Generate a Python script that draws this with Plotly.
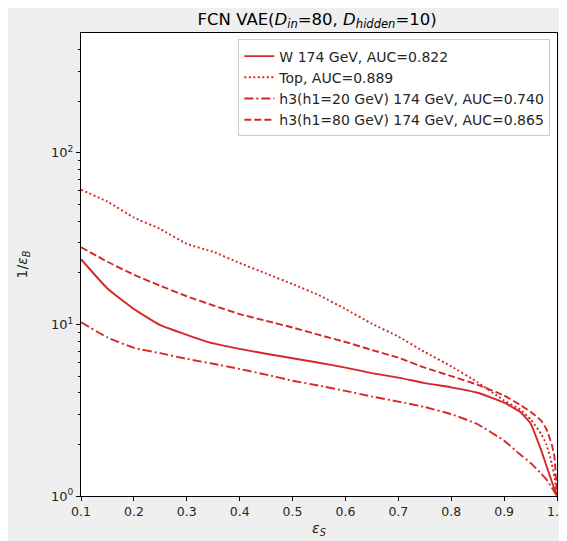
import plotly.graph_objects as go

# signal efficiency grid (shared by all curves)
eps_s = [0.1, 0.15, 0.2, 0.25, 0.3, 0.35, 0.4, 0.45, 0.5, 0.55, 0.6, 0.65,
         0.7, 0.75, 0.8, 0.85, 0.9, 0.93, 0.95, 0.97, 0.98, 0.99, 0.995, 1.0]

# background rejection 1/eps_B
w_174 = [24.0, 16.2, 12.3, 9.9, 8.7, 7.75, 7.2, 6.75, 6.35, 5.98, 5.6, 5.2,
         4.9, 4.55, 4.3, 4.0, 3.5, 3.1, 2.65, 1.85, 1.5, 1.22, 1.1, 1.0]
top = [61, 52, 42, 36, 29.5, 26.5, 22.8, 19.8, 17.2, 14.8, 12.3, 10.1,
       8.5, 6.9, 5.7, 4.6, 3.6, 3.2, 2.8, 2.3, 2.0, 1.55, 1.3, 1.0]
h3_h1_20 = [10.3, 8.4, 7.3, 6.8, 6.3, 5.9, 5.5, 5.1, 4.7, 4.4, 4.1, 3.8,
            3.55, 3.3, 3.0, 2.62, 2.1, 1.75, 1.56, 1.35, 1.25, 1.12, 1.06, 1.0]
h3_h1_80 = [28.2, 23.2, 19.5, 16.8, 14.6, 12.9, 11.5, 10.5, 9.6, 8.7, 7.9, 7.1,
            6.4, 5.6, 5.0, 4.45, 3.85, 3.4, 3.1, 2.75, 2.45, 2.0, 1.7, 1.0]

# matplotlib-like dash patterns: '-', ':', '-.', '--'
series = [
    ("W 174 GeV, AUC=0.822", w_174, "solid"),
    ("Top, AUC=0.889", top, "2px,2.5px"),
    ("h3(h1=20 GeV) 174 GeV, AUC=0.740", h3_h1_20, "9px,3px,2px,3px"),
    ("h3(h1=80 GeV) 174 GeV, AUC=0.865", h3_h1_80, "7px,3px"),
]

x_ticks = [0.1, 0.2, 0.3, 0.4, 0.5, 0.6, 0.7, 0.8, 0.9, 1.0]
y_ticks = [1, 10, 100]
y_ticktext = ["10<sup>0</sup>", "10<sup>1</sup>", "10<sup>2</sup>"]
y_minor = [2, 3, 4, 5, 6, 7, 8, 9, 20, 30, 40, 50, 60, 70, 80, 90,
           200, 300, 400]

RED = "#d62728"

fig = go.Figure()

for name, values, dash in series:
    fig.add_trace(
        go.Scatter(
            x=eps_s,
            y=values,
            mode="lines",
            name=name,
            line=dict(color=RED, width=1.9, dash=dash, shape="spline", smoothing=0.4),
        )
    )

# the page body adds an 8px offset, so the figure is 8px smaller each way
fig.update_layout(
    width=559,
    height=533,
    paper_bgcolor="#efefef",
    plot_bgcolor="white",
    font=dict(family="DejaVu Sans", size=12, color="#262626"),
    margin=dict(l=73, r=10, t=25, b=45, autoexpand=False),
    title=dict(
        text="FCN VAE(<i>D</i><sub><i>in</i></sub>=80, <i>D</i><sub><i>hidden</i></sub>=10)",
        x=0.553,
        xanchor="center",
        y=0.979,
        yanchor="middle",
        font=dict(size=16.5, color="black"),
    ),
    legend=dict(
        x=0.986,
        xanchor="right",
        y=0.986,
        yanchor="top",
        bgcolor="rgba(255,255,255,0.85)",
        bordercolor="#cccccc",
        borderwidth=1,
        font=dict(size=14),
        tracegroupgap=0,
    ),
    showlegend=True,
)

fig.update_xaxes(
    range=[0.1, 1.0],
    tickvals=x_ticks,
    ticktext=[f"{v:.1f}" for v in x_ticks],
    tickfont=dict(size=12.5),
    ticklabeloverflow="allow",
    ticks="outside",
    ticklen=4,
    tickcolor="black",
    showgrid=False,
    zeroline=False,
    showline=True,
    linecolor="black",
    linewidth=1,
    mirror=True,
    automargin=False,
    title=dict(text="<i>ε</i><sub><i>S</i></sub>", standoff=5, font=dict(size=14)),
)

fig.update_yaxes(
    type="log",
    range=[0, 2.699],
    tickvals=y_ticks,
    ticktext=y_ticktext,
    tickfont=dict(size=13),
    ticks="outside",
    ticklen=4,
    tickcolor="black",
    minor=dict(tickvals=y_minor, ticks="outside", ticklen=2, tickcolor="black", showgrid=False),
    showgrid=False,
    zeroline=False,
    showline=True,
    linecolor="black",
    linewidth=1,
    mirror=True,
    automargin=False,
    title=dict(text="1/<i>ε</i><sub><i>B</i></sub>", standoff=20, font=dict(size=14)),
)

fig.write_html("out.html")
